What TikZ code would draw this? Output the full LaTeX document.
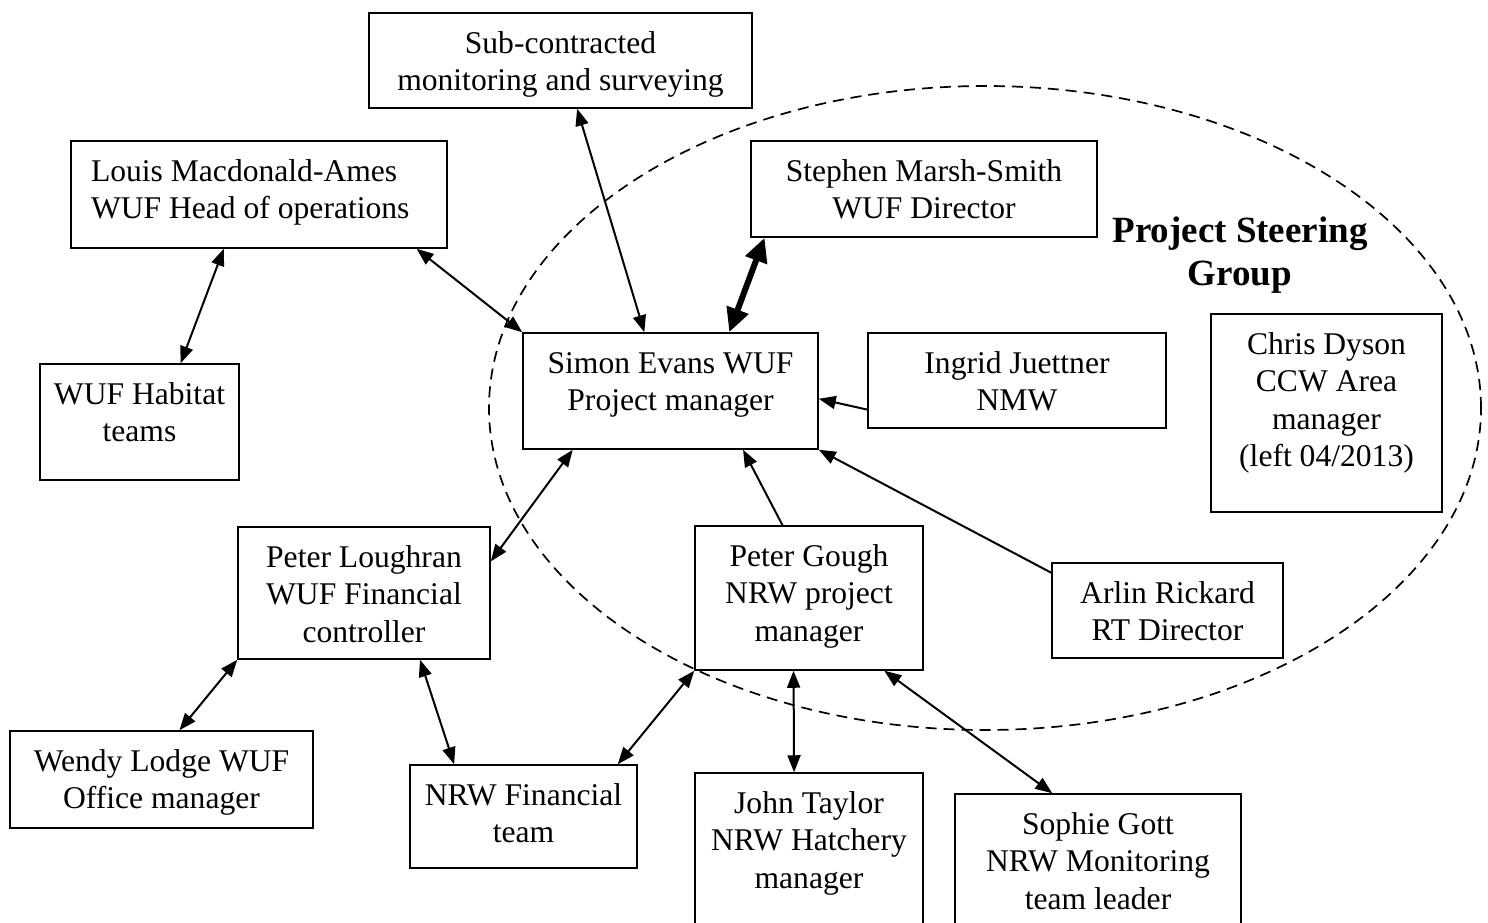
\documentclass[tikz,border=0pt]{standalone}
\usepackage{fontspec}
\setmainfont{Liberation Serif}
\usetikzlibrary{arrows.meta}

% text block of a box: width, height, text set from the top
\newcommand{\boxtext}[4][\centering]{\parbox[t][#3][t]{#2}{#1\rule{0pt}{20pt}#4}}

\tikzset{
    orgbox/.style={
        draw,
        rectangle,
        fill=white,
        inner sep=0pt,
        line width=0.75pt,
        font=\fontsize{15.8}{18.75}\selectfont
    },
    link/.style={
        line width=1pt,
        {Triangle[length=8.5pt, width=6.5pt]}-{Triangle[length=8.5pt, width=6.5pt]}
    },
    tolink/.style={
        line width=1pt,
        -{Triangle[length=8.5pt, width=6.5pt]}
    },
    boldlink/.style={
        line width=3pt,
        {Triangle[length=12pt, width=11pt]}-{Triangle[length=12pt, width=11pt]}
    }
}

\begin{document}
\begin{tikzpicture}[x=0.5pt, y=-0.5pt]
    \clip (0,0) rectangle (1488,922);

    % Steering group
    \draw[dashed, dash pattern=on 5.5pt off 3.5pt, line width=0.85pt] (985,408) ellipse [x radius=248pt, y radius=161pt];
    \node[font=\bfseries\fontsize{18.5}{21.5}\selectfont, align=center] (steering) at (1240,255) {Project Steering\\Group};

    % Boxes
    \node[orgbox] (sub) at (560.5,60.5) {\boxtext{191.5pt}{47.5pt}{Sub-contracted\\monitoring and surveying}};
    \node[orgbox] (louis) at (259,194.5) {\boxtext[\raggedright\leftskip=10pt]{188pt}{53.5pt}{Louis Macdonald-Ames\\WUF Head of operations}};
    \node[orgbox] (stephen) at (924,189) {\boxtext{173pt}{48pt}{Stephen Marsh-Smith\\WUF Director}};
    \node[orgbox] (simon) at (670.5,391) {\boxtext{147.5pt}{58pt}{Simon Evans WUF\\Project manager}};
    \node[orgbox] (ingrid) at (1017,380.5) {\boxtext{149pt}{47.5pt}{Ingrid Juettner\\NMW}};
    \node[orgbox] (chris) at (1326.5,413) {\boxtext{115.5pt}{99pt}{Chris Dyson\\CCW Area\\manager\\(left 04/2013)}};
    \node[orgbox] (habitat) at (139.5,422) {\boxtext{99.5pt}{58pt}{WUF Habitat\\teams}};
    \node[orgbox] (ploughran) at (364,593) {\boxtext{126pt}{66pt}{Peter Loughran\\WUF Financial\\controller}};
    \node[orgbox] (pgough) at (809,598) {\boxtext{114pt}{72pt}{Peter Gough\\NRW project\\manager}};
    \node[orgbox] (arlin) at (1167.5,610.5) {\boxtext{115.5pt}{47.5pt}{Arlin Rickard\\RT Director}};
    \node[orgbox] (wendy) at (161.5,779.5) {\boxtext{151.5pt}{48.5pt}{Wendy Lodge WUF\\Office manager}};
    \node[orgbox] (nrwfin) at (523.5,816.5) {\boxtext{113.5pt}{51.5pt}{NRW Financial\\team}};
    \node[orgbox] (john) at (809,866.5) {\boxtext{114pt}{93.5pt}{John Taylor\\NRW Hatchery\\manager}};
    \node[orgbox] (sophie) at (1098,887) {\boxtext{143pt}{93pt}{Sophie Gott\\NRW Monitoring\\team leader}};

    % Links
    \draw[link] (sub.-71) -- (simon.114);
    \draw[link] (louis.-19) -- (simon.north west);
    \draw[boldlink] (stephen.197) -- (simon.45);
    \draw[tolink] (ingrid.191) -- (simon.-3);
    \draw[tolink] (arlin.162) -- (simon.south east);
    \draw[tolink] (pgough.110) -- (simon.-39);
    \draw[link] (ploughran.14) -- (simon.211);
    \draw[link] (louis.237) -- (habitat.55);
    \draw[link] (ploughran.south west) -- (wendy.70);
    \draw[link] (ploughran.-50) -- (nrwfin.143);
    \draw[link] (pgough.south west) -- (nrwfin.29);
    \draw[link] (pgough.258) -- (john.99);
    \draw[link] (pgough.-44) -- (sophie.116);
\end{tikzpicture}
\end{document}
